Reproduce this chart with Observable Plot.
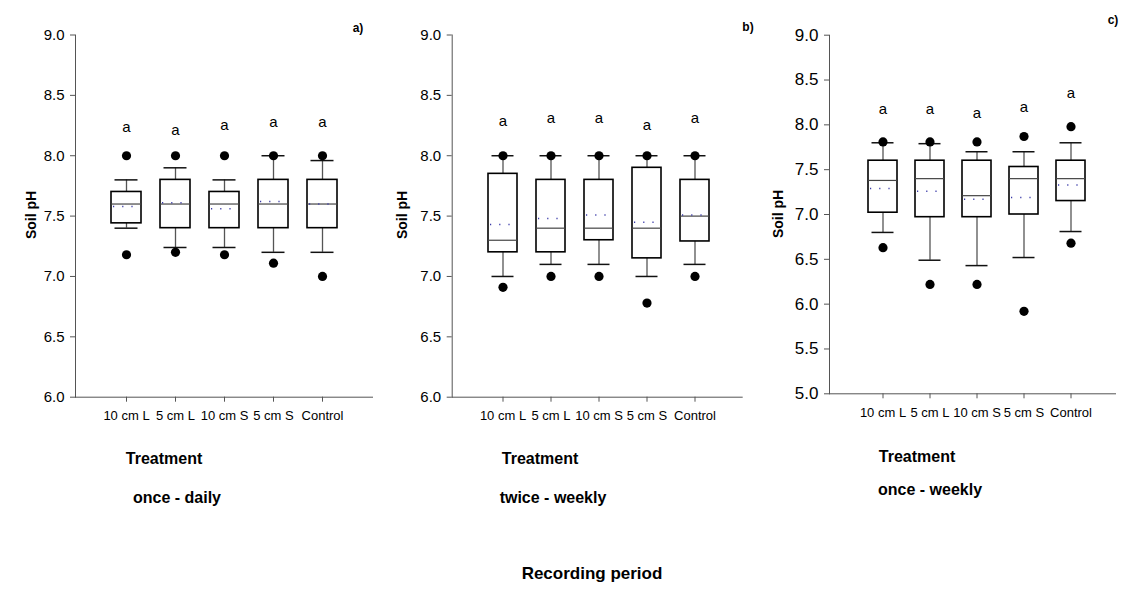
<!DOCTYPE html>
<html>
<head>
<meta charset="utf-8">
<script src="https://cdn.jsdelivr.net/npm/d3@7"></script>
<script src="https://cdn.jsdelivr.net/npm/@observablehq/plot@0.6"></script>
<style>
  html, body { margin: 0; padding: 0; background: #fff; }
  #chart { position: relative; width: 1125px; height: 592px; font-family: "Liberation Sans", Arial, sans-serif; color: #000; overflow: hidden; }
  #chart svg { position: absolute; top: 0; }
  .lbl { position: absolute; transform: translate(-50%, -50%); white-space: nowrap; }
  .b { font-weight: bold; }
</style>
</head>
<body>
<div id="chart"></div>
<script>
// ---- data ----
const categories = ["10 cm L", "5 cm L", "10 cm S", "5 cm S", "Control"];

// a) once - daily
const q1A    = [7.44, 7.40, 7.40, 7.40, 7.40];
const q3A    = [7.70, 7.80, 7.70, 7.80, 7.80];
const medA   = [7.60, 7.60, 7.60, 7.60, 7.60];
const meanA  = [7.58, 7.61, 7.56, 7.62, 7.60];
const loA    = [7.40, 7.24, 7.24, 7.20, 7.20];
const hiA    = [7.80, 7.90, 7.80, 8.00, 7.96];
const outLoA = [7.18, 7.20, 7.18, 7.11, 7.00];
const outHiA = [8.00, 8.00, 8.00, 8.00, 8.00];
const letYA  = [8.24, 8.21, 8.25, 8.28, 8.28];

// b) twice - weekly
const q1B    = [7.20, 7.20, 7.30, 7.15, 7.29];
const q3B    = [7.85, 7.80, 7.80, 7.90, 7.80];
const medB   = [7.30, 7.40, 7.40, 7.40, 7.50];
const meanB  = [7.43, 7.48, 7.51, 7.45, 7.51];
const loB    = [7.00, 7.10, 7.10, 7.00, 7.10];
const hiB    = [8.00, 8.00, 8.00, 8.00, 8.00];
const outLoB = [6.91, 7.00, 7.00, 6.78, 7.00];
const outHiB = [8.00, 8.00, 8.00, 8.00, 8.00];
const letYB  = [8.29, 8.31, 8.31, 8.25, 8.31];

// c) once - weekly
const q1C    = [7.02, 6.97, 6.97, 7.00, 7.15];
const q3C    = [7.60, 7.60, 7.60, 7.53, 7.60];
const medC   = [7.38, 7.40, 7.21, 7.40, 7.40];
const meanC  = [7.29, 7.26, 7.17, 7.19, 7.33];
const loC    = [6.80, 6.49, 6.43, 6.52, 6.81];
const hiC    = [7.80, 7.79, 7.70, 7.70, 7.80];
const outLoC = [6.63, 6.22, 6.22, 5.92, 6.68];
const outHiC = [7.81, 7.81, 7.81, 7.87, 7.98];
const letYC  = [8.17, 8.17, 8.13, 8.20, 8.35];

const letters = ["a", "a", "a", "a", "a"];
const yTicksAB = [6.0, 6.5, 7.0, 7.5, 8.0, 8.5, 9.0];
const yTicksC  = [5.0, 5.5, 6.0, 6.5, 7.0, 7.5, 8.0, 8.5, 9.0];

// ---- helpers ----
function rowsOf(q1, q3, med, mean, lo, hi, letY) {
  return categories.map((c, i) => ({cat: c, q1: q1[i], q3: q3[i], med: med[i], mean: mean[i], lo: lo[i], hi: hi[i], letY: letY[i], letter: letters[i]}));
}
function outliersOf(lo, hi) {
  return categories.flatMap((c, i) => [{cat: c, v: lo[i]}, {cat: c, v: hi[i]}]);
}

function panel(cfg) {
  const rows = rowsOf(...cfg.stats);
  const outs = outliersOf(...cfg.outs);
  const svg = Plot.plot({
    width: cfg.width, height: cfg.height,
    marginLeft: cfg.ml, marginRight: cfg.mr, marginTop: cfg.mt, marginBottom: cfg.height - cfg.yBottom,
    style: {fontFamily: "'Liberation Sans', Arial, sans-serif", color: "#000", background: "transparent", overflow: "visible"},
    x: {type: "band", domain: categories, paddingInner: 0.39, paddingOuter: 0.7, align: cfg.align},
    y: {domain: cfg.yDomain},
    marks: [
      Plot.axisY({ticks: cfg.yTicks, tickFormat: d3.format(".1f"), tickSize: 5, tickPadding: 6, fontSize: cfg.yFont, stroke: "#555", label: null}),
      Plot.axisX({tickSize: 5, tickPadding: 9, fontSize: 13, stroke: "#555", label: null}),
      Plot.frame({anchor: "left", stroke: "#555"}),
      Plot.frame({anchor: "bottom", stroke: "#555"}),
      Plot.ruleX(rows, {x: "cat", y1: "lo", y2: "q1", stroke: "#555", strokeWidth: 1.3}),
      Plot.ruleX(rows, {x: "cat", y1: "q3", y2: "hi", stroke: "#555", strokeWidth: 1.3}),
      Plot.tickY(rows, {x: "cat", y: "lo", insetLeft: 3.5, insetRight: 3.5, stroke: "#111", strokeWidth: 1.5}),
      Plot.tickY(rows, {x: "cat", y: "hi", insetLeft: 3.5, insetRight: 3.5, stroke: "#111", strokeWidth: 1.5}),
      Plot.barY(rows, {x: "cat", y1: "q1", y2: "q3", fill: "white", stroke: "#000", strokeWidth: 1.6}),
      Plot.tickY(rows, {x: "cat", y: "med", stroke: "#444", strokeWidth: 1.2}),
      Plot.tickY(rows, {x: "cat", y: "mean", insetLeft: 2, insetRight: 1, stroke: "#3a3aa8", strokeWidth: 1.5, strokeDasharray: "1.2,8"}),
      Plot.dot(outs, {x: "cat", y: "v", r: 4.6, fill: "#000", stroke: "none"}),
      Plot.text(rows, {x: "cat", y: "letY", text: "letter", fontSize: 15, fill: "#000"})
    ]
  });
  svg.style.left = cfg.left + "px";
  return svg;
}

const chart = document.getElementById("chart");

chart.appendChild(panel({
  left: 0, width: 380, height: 440, ml: 75, mr: 8, mt: 34.5, yBottom: 396.7, align: 0.5,
  yDomain: [6, 9], yTicks: yTicksAB, yFont: 15,
  stats: [q1A, q3A, medA, meanA, loA, hiA, letYA], outs: [outLoA, outHiA]
}));
chart.appendChild(panel({
  left: 370, width: 380, height: 440, ml: 81.7, mr: 8.3, mt: 34.5, yBottom: 396.7, align: 0.53,
  yDomain: [6, 9], yTicks: yTicksAB, yFont: 15,
  stats: [q1B, q3B, medB, meanB, loB, hiB, letYB], outs: [outLoB, outHiB]
}));
chart.appendChild(panel({
  left: 750, width: 375, height: 440, ml: 79, mr: 10, mt: 34.7, yBottom: 393.3, align: 0.56,
  yDomain: [5, 9], yTicks: yTicksC, yFont: 17,
  stats: [q1C, q3C, medC, meanC, loC, hiC, letYC], outs: [outLoC, outHiC]
}));

function label(text, x, y, size, bold, rotate) {
  const d = document.createElement("div");
  d.className = "lbl" + (bold ? " b" : "");
  d.textContent = text;
  d.style.left = x + "px";
  d.style.top = y + "px";
  d.style.fontSize = size + "px";
  if (rotate) d.style.transform = "translate(-50%, -50%) rotate(-90deg)";
  chart.appendChild(d);
}

label("Soil pH", 31, 215, 14, true, true);
label("Soil pH", 402, 215, 14, true, true);
label("Soil pH", 778, 214, 14, true, true);
label("a)", 358, 28, 12, true);
label("b)", 748, 27, 12, true);
label("c)", 1113, 20, 12, true);
label("Treatment", 164, 459, 16, true);
label("Treatment", 540, 459, 16, true);
label("Treatment", 917, 457, 16, true);
label("once - daily", 177, 498, 16, true);
label("twice - weekly", 553, 498, 16, true);
label("once - weekly", 930, 490, 16, true);
label("Recording period", 592, 574, 17, true);
</script>
</body>
</html>
